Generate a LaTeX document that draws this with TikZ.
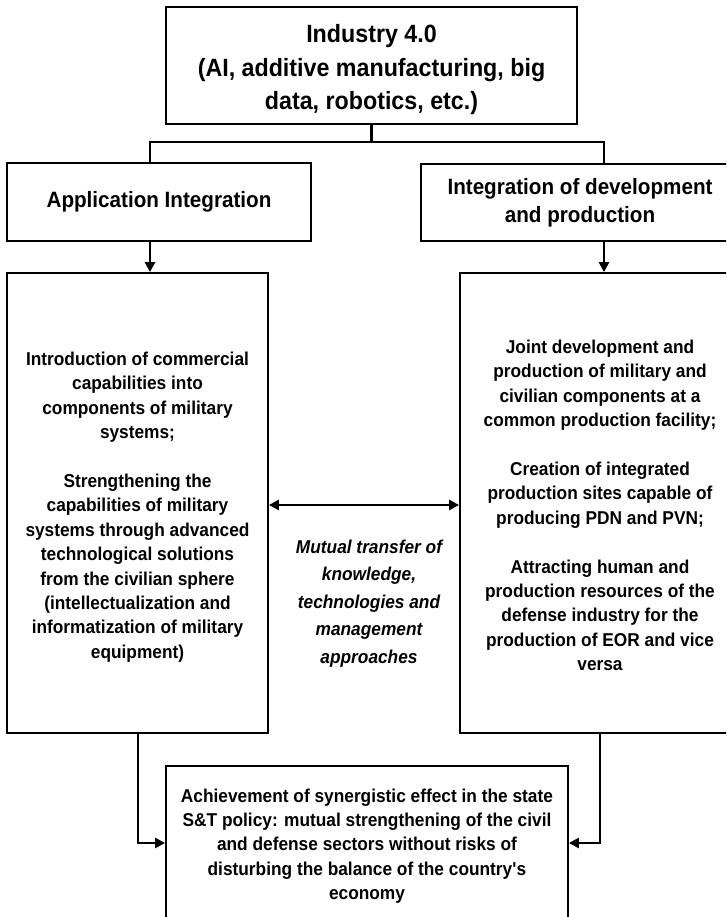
\documentclass[tikz,border=0pt]{standalone}
\usepackage{fontspec}
\setmainfont{Liberation Sans}[FakeStretch=0.93]
\usetikzlibrary{arrows.meta}
\tikzset{
  box/.style={draw, line width=1.8pt, inner sep=0pt, align=center,
    font=\bfseries\fontsize{18.6}{24.4}\selectfont},
  txt/.style={inner sep=0pt, align=center, font=\bfseries\fontsize{18.6}{24.4}\selectfont},
  conn/.style={line width=2.7pt},
  arr/.style={line width=2.7pt, -{Triangle[length=10pt,width=10pt]}},
  darr/.style={line width=2.7pt, {Triangle[length=10pt,width=10pt]}-{Triangle[length=10pt,width=10pt]}}
}
\begin{document}
\begin{tikzpicture}[x=1pt,y=-1pt]
\useasboundingbox (0,0) rectangle (726,917);
\fill[white] (0,0) rectangle (726,917);
\clip (0,0) rectangle (726,917);

\node[box, minimum width=411pt, minimum height=117pt] (ind) at (371.5,65.5) {};
\node[txt, font=\bfseries\fontsize{25}{33.5}\selectfont] (indT) at (371.5,70)
  {Industry 4.0\\(AI, additive manufacturing, big\\data, robotics, etc.)};

\node[box, minimum width=304pt, minimum height=78pt,
  font=\bfseries\fontsize{22.2}{28}\selectfont] (app) at (159,202)
  {Application Integration};
\node[box, minimum width=318pt, minimum height=77pt,
  font=\bfseries\fontsize{22.2}{28}\selectfont] (dev) at (580,202.5)
  {Integration of development\\and production};

\node[box, minimum width=261pt, minimum height=460pt] (appD) at (137.5,503) {};
\node[txt] (appT) at (137.5,507)
  {Introduction of commercial\\capabilities into\\components of military\\systems;\\[24.4pt]
   Strengthening the\\capabilities of military\\systems through advanced\\technological solutions\\from the civilian sphere\\(intellectualization and\\informatization of military\\equipment)};
\node[box, minimum width=280pt, minimum height=460pt] (devD) at (600,503) {};
\node[txt] (devT) at (600,505.5)
  {Joint development and\\production of military and\\civilian components at a\\common production facility;\\[24.4pt]
   Creation of integrated\\production sites capable of\\producing PDN and PVN;\\[24.4pt]
   Attracting human and\\production resources of the\\defense industry for the\\production of EOR and vice\\versa};

\node[txt, font=\bfseries\itshape\fontsize{18.6}{27.5}\selectfont] (mid) at (369,603.5)
  {Mutual transfer of\\knowledge,\\technologies and\\management\\approaches};

\node[box, minimum width=402pt, minimum height=160pt] (res) at (367,846)
  {Achievement of synergistic effect in the state\\S\&T policy: mutual strengthening of the civil\\and defense sectors without risks of\\disturbing the balance of the country\textquotesingle s\\economy};

\coordinate (jL) at (150,142);
\coordinate (jR) at (604,142);
\coordinate (dA) at (0,505);
\coordinate (bL) at (138,843);
\coordinate (bR) at (600,843);

\draw[conn] (ind.south) -- (ind.south |- jL);
\draw[conn] ([xshift=-1.35pt]jL) -- ([xshift=1.35pt]jR);
\draw[conn] (jL) -- (jL |- app.north);
\draw[conn] (jR) -- (jR |- dev.north);
\draw[arr] (app.south -| jL) -- (appD.north -| jL);
\draw[arr] (dev.south -| jR) -- (devD.north -| jR);
\draw[darr] (appD.east |- dA) -- (devD.west |- dA);
\draw[arr] (appD.south -| bL) |- (res.west |- bL);
\draw[arr] (devD.south -| bR) |- (res.east |- bR);
\end{tikzpicture}
\end{document}
